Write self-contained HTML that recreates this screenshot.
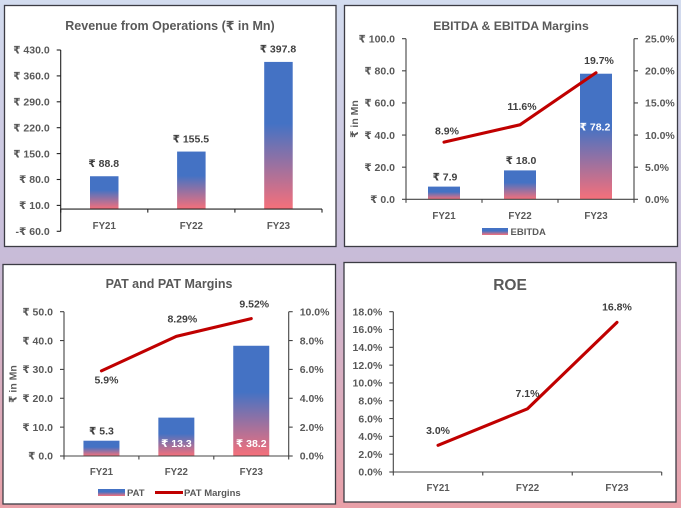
<!DOCTYPE html>
<html lang="en">
<head>
<meta charset="utf-8">
<title>Financial Charts</title>
<style>
html,body{margin:0;padding:0;width:681px;height:508px;overflow:hidden;background:#fff}
#dashboard{display:block;filter:blur(0.3px)}
text{font-family:"Liberation Sans","DejaVu Sans",sans-serif;font-weight:bold}
</style>
</head>
<body>
<svg id="dashboard" width="681" height="508" viewBox="0 0 681 508" xmlns="http://www.w3.org/2000/svg">
<defs>
<linearGradient id="bgGrad" x1="0" y1="0" x2="0" y2="1">
<stop offset="0" stop-color="#d3dcef"/><stop offset="0.5" stop-color="#c8bcd8"/><stop offset="1" stop-color="#e9a0a8"/>
</linearGradient>
<linearGradient id="barGrad" x1="0" y1="0" x2="0" y2="1">
<stop offset="0" stop-color="#4472c4"/><stop offset="0.42" stop-color="#4472c4"/><stop offset="1" stop-color="#f6707a"/>
</linearGradient>
</defs>
<rect width="681" height="508" fill="url(#bgGrad)"/>

<g id="p1">
<rect x="4.5" y="5.5" width="331.5" height="241" fill="#fff" stroke="#3c3c44" stroke-width="1.3"/>
<text x="170" y="30" text-anchor="middle" font-size="12.5" fill="#595959">Revenue from Operations (₹ in Mn)</text>
</g>

<g id="p2">
<rect x="344.5" y="5.5" width="333" height="241" fill="#fff" stroke="#3c3c44" stroke-width="1.3"/>
<text x="511" y="30" text-anchor="middle" font-size="12.2" fill="#595959">EBITDA &amp; EBITDA Margins</text>
<text transform="translate(358 119) rotate(-90)" text-anchor="middle" font-size="10.5" fill="#595959">₹ in Mn</text>
<rect x="482" y="228" width="26" height="7" fill="url(#barGrad)"/>
<text x="510.5" y="235" font-size="9.5" fill="#595959">EBITDA</text>
</g>

<g id="p3">
<rect x="3" y="264.5" width="332.5" height="239.5" fill="#fff" stroke="#3c3c44" stroke-width="1.3"/>
<text x="169" y="288" text-anchor="middle" font-size="12.5" fill="#595959">PAT and PAT Margins</text>
<text transform="translate(16.5 384) rotate(-90)" text-anchor="middle" font-size="10.5" fill="#595959">₹ in Mn</text>
<rect x="98" y="489" width="27" height="7" fill="url(#barGrad)"/>
<text x="127" y="496" font-size="9.5" fill="#595959">PAT</text>
<line x1="155" y1="492.5" x2="183" y2="492.5" stroke="#c00000" stroke-width="3"/>
<text x="184" y="496" font-size="9.5" fill="#595959">PAT Margins</text>
</g>

<g id="p4">
<rect x="344" y="262.5" width="332" height="239.5" fill="#fff" stroke="#3c3c44" stroke-width="1.3"/>
<text x="510" y="290" text-anchor="middle" font-size="15.5" fill="#595959">ROE</text>
</g>
</svg>
<script>
var categories = ["FY21", "FY22", "FY23"];

var revenueValues = [88.8, 155.5, 397.8];
var revenueTicks = [-60, 10, 80, 150, 220, 290, 360, 430];

var ebitdaValues = [7.9, 18.0, 78.2];
var ebitdaTicks = [0, 20, 40, 60, 80, 100];
var ebitdaMargins = [8.9, 11.6, 19.7];
var ebitdaMarginLabels = ["8.9%", "11.6%", "19.7%"];
var ebitdaMarginTicks = [0, 5, 10, 15, 20, 25];

var patValues = [5.3, 13.3, 38.2];
var patTicks = [0, 10, 20, 30, 40, 50];
var patMargins = [5.9, 8.29, 9.52];
var patMarginLabels = ["5.9%", "8.29%", "9.52%"];
var patMarginTicks = [0, 2, 4, 6, 8, 10];

var roeValues = [3.0, 7.1, 16.8];
var roeLabels = ["3.0%", "7.1%", "16.8%"];
var roeTicks = [0, 2, 4, 6, 8, 10, 12, 14, 16, 18];

var NS = "http://www.w3.org/2000/svg";
var GREY = "#595959", DARK = "#404040", RED = "#c00000";

function make(parent, tag, attrs, content) {
  var el = document.createElementNS(NS, tag);
  for (var k in attrs) el.setAttribute(k, attrs[k]);
  if (content !== undefined) el.textContent = content;
  document.getElementById(parent).appendChild(el);
  return el;
}
function linearY(domainMin, domainMax, top, bottom) {
  return function (v) { return bottom - (v - domainMin) / (domainMax - domainMin) * (bottom - top); };
}
function rupee(v) { return (v < 0 ? "-₹ " : "₹ ") + Math.abs(v).toFixed(1); }
function pct(v) { return v.toFixed(1) + "%"; }

function drawYAxis(parent, prefix, x, dir, ticks, y, fmt, stroke) {
  var el = make(parent, "line", {x1: x, x2: x, y1: y(ticks[ticks.length - 1]), y2: y(ticks[0]), stroke: stroke, "stroke-width": 1.1});
  
  
  ticks.forEach(function (t) {
    var tick = make(parent, "line", {x1: x, x2: x + dir * 4, y1: y(t), y2: y(t), stroke: stroke, "stroke-width": 1.1});
    
    
    var label = make(parent, "text", {x: x + dir * 11, y: y(t) + 3.7, "font-size": 10.5, fill: GREY, "text-anchor": dir < 0 ? "end" : "start"}, fmt(t));
    
    
  });
}
function drawXAxis(parent, prefix, left, right, axisY, labelY, stroke) {
  var step = (right - left) / categories.length;
  var el = make(parent, "line", {x1: left, x2: right, y1: axisY, y2: axisY, stroke: stroke, "stroke-width": 1.1});
  
  
  for (var i = 0; i <= categories.length; i++) {
    var tick = make(parent, "line", {x1: left + i * step, x2: left + i * step, y1: axisY, y2: axisY + 3.5, stroke: stroke, "stroke-width": 1.1});
    
    
  }
  categories.forEach(function (c, i) {
    var label = make(parent, "text", {x: left + (i + 0.5) * step, y: labelY, "font-size": 9.7, fill: GREY, "text-anchor": "middle"}, c);
    
    
  });
}
function centerX(left, right, i) { return left + (i + 0.5) * (right - left) / categories.length; }

function drawBars(parent, prefix, values, left, right, barW, y, base, placeLabel) {
  values.forEach(function (v, i) {
    var cx = centerX(left, right, i);
    var bar = make(parent, "rect", {x: cx - barW / 2, y: y(v), width: barW, height: y(base) - y(v), fill: "url(#barGrad)"});
    
    
    var place = placeLabel(v, i);
    var label = make(parent, "text", {x: cx + (place.dx || 0), y: place.y, "font-size": 10.5, fill: place.fill, "text-anchor": "middle"}, rupee(v));
    
    
  });
}
function drawLine(parent, prefix, values, labels, left, right, y, nudge) {
  var pts = values.map(function (v, i) { return centerX(left, right, i) + "," + y(v); }).join(" ");
  var line = make(parent, "polyline", {points: pts, fill: "none", stroke: RED, "stroke-width": 3.1, "stroke-linecap": "round", "stroke-linejoin": "miter"});
  
  
  values.forEach(function (v, i) {
    var n = nudge(i);
    var label = make(parent, "text", {x: centerX(left, right, i) + n.dx, y: y(v) + n.dy, "font-size": 10.5, fill: DARK, "text-anchor": "middle"}, labels[i]);
    
    
  });
}

/* Revenue */
(function () {
  var L = 60.7, R = 322, y = linearY(-60, 430, 50, 231.3);
  drawYAxis("p1", "revenue-y", L, -1, revenueTicks, y, rupee, "#222");
  drawBars("p1", "revenue", revenueValues, L, R, 28.5, y, 0, function (v) {
    return {y: y(v) - 9.2, dx: -0.5, fill: DARK};
  });
  drawXAxis("p1", "revenue", L, R, y(0), 229, "#222");
})();

/* EBITDA */
(function () {
  var L = 406, R = 634, y = linearY(0, 100, 38.7, 199.3), y2 = linearY(0, 25, 38.7, 199.3);
  drawYAxis("p2", "ebitda-y", L, -1, ebitdaTicks, y, rupee, "#444");
  drawYAxis("p2", "ebitda-margin-y", R, 1, ebitdaMarginTicks, y2, pct, "#444");
  drawBars("p2", "ebitda", ebitdaValues, L, R, 32, y, 0, function (v, i) {
    return i === 2 ? {y: y(v) + 57, dx: -1, fill: "#fff"} : {y: y(v) - 6.3, dx: 1, fill: DARK};
  });
  drawXAxis("p2", "ebitda", L, R, 199.3, 219, "#444");
  drawLine("p2", "ebitda-margin", ebitdaMargins, ebitdaMarginLabels, L, R, y2, function (i) {
    return [{dx: 3, dy: -7.5}, {dx: 2, dy: -15}, {dx: 3, dy: -8.7}][i];
  });
})();

/* PAT */
(function () {
  var L = 64, R = 288.7, y = linearY(0, 50, 311.7, 456), y2 = linearY(0, 10, 311.7, 456);
  drawYAxis("p3", "pat-y", L, -1, patTicks, y, rupee, "#444");
  drawYAxis("p3", "pat-margin-y", R, 1, patMarginTicks, y2, pct, "#444");
  drawBars("p3", "pat", patValues, L, R, 36, y, 0, function (v, i) {
    return i === 0 ? {y: y(v) - 6.4, fill: DARK} : {y: 447, fill: "#fff"};
  });
  drawXAxis("p3", "pat", L, R, 456, 475, "#444");
  drawLine("p3", "pat-margin", patMargins, patMarginLabels, L, R, y2, function (i) {
    return [{dx: 5, dy: 12.5}, {dx: 6, dy: -14}, {dx: 3, dy: -11}][i];
  });
})();

/* ROE */
(function () {
  var L = 393.3, R = 661.7, y = linearY(0, 18, 311.7, 472);
  drawYAxis("p4", "roe-y", L, -1, roeTicks, y, pct, "#444");
  drawXAxis("p4", "roe", L, R, 472, 491, "#444");
  drawLine("p4", "roe", roeValues, roeLabels, L, R, y, function (i) {
    return [{dx: 0, dy: -11.5}, {dx: 0, dy: -12}, {dx: 0, dy: -12}][i];
  });
})();
</script>
</body>
</html>
